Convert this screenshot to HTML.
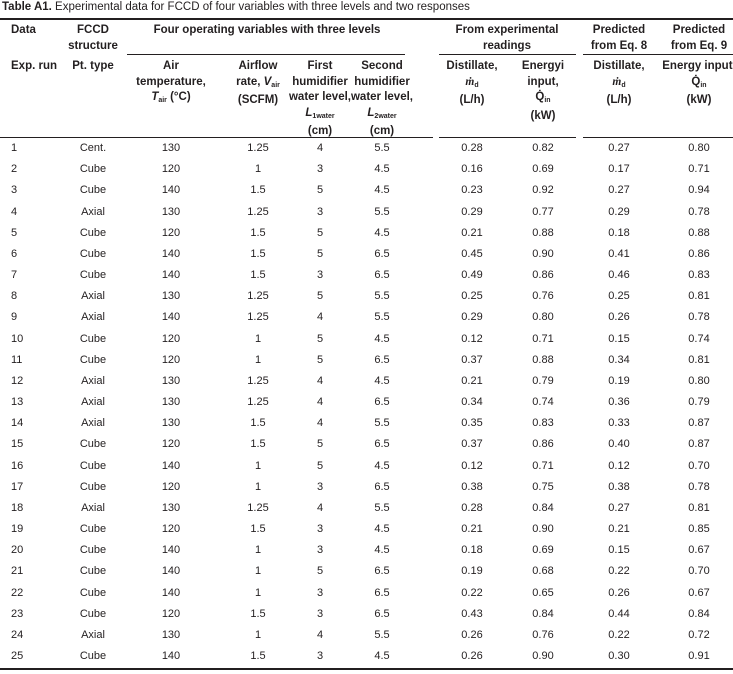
<!DOCTYPE html>
<html><head><meta charset="utf-8"><style>
body{margin:0;width:733px;height:674px;background:#fff;position:relative;font-family:"Liberation Sans Narrow","Liberation Sans",sans-serif;color:#231f20;overflow:hidden}
.t{position:absolute;font-size:11px;white-space:nowrap;text-align:center;width:120px;line-height:15px}
.h{font-weight:bold;font-family:"Liberation Sans",sans-serif;font-size:11.5px;line-height:15.5px}
.l{position:absolute;height:1px;background:#231f20}
sub{font-size:7px;vertical-align:-2px}
</style></head><body>
<div style="position:absolute;left:2px;top:1px;font-size:11.5px;font-family:'Liberation Sans',sans-serif"><b>Table A1.</b> Experimental data for FCCD of four variables with three levels and two responses</div>
<div class="l" style="left:0;width:733px;top:18px;height:1.5px"></div>
<div class="l" style="left:127px;width:278px;top:54px"></div>
<div class="l" style="left:439px;width:137px;top:54px"></div>
<div class="l" style="left:583px;width:150px;top:54px"></div>
<div class="l" style="left:0;width:433px;top:137px"></div>
<div class="l" style="left:439px;width:137px;top:137px"></div>
<div class="l" style="left:583px;width:150px;top:137px"></div>
<div class="l" style="left:0;width:733px;top:668px;height:1.5px"></div>

<div class="t h" style="left:11px;top:23px;text-align:left">Data</div>
<div class="t h" style="left:33px;top:23px">FCCD<br>structure</div>
<div class="t h" style="left:117px;top:23px;width:300px">Four operating variables with three levels</div>
<div class="t h" style="left:447px;top:23px">From experimental<br>readings</div>
<div class="t h" style="left:559px;top:23px">Predicted<br>from Eq. 8</div>
<div class="t h" style="left:639px;top:23px">Predicted<br>from Eq. 9</div>

<div class="t h" style="left:11px;top:59px;text-align:left">Exp. run</div>
<div class="t h" style="left:33px;top:59px">Pt. type</div>
<div class="t h" style="left:111px;top:59px">Air<br>temperature,<br><i>T</i><sub>air</sub> (°C)</div>
<div class="t h" style="left:198px;top:59px">Airflow<br>rate, <i>V</i><sub>air</sub><br>(SCFM)</div>
<div class="t h" style="left:260px;top:59px">First<br>humidifier<br>water level,<br><i>L</i><sub>1water</sub><br>(cm)</div>
<div class="t h" style="left:322px;top:59px">Second<br>humidifier<br>water level,<br><i>L</i><sub>2water</sub><br>(cm)</div>
<div class="t h" style="left:412px;top:59px">Distillate,<br><i style="font-family:'Liberation Serif',serif">ṁ</i><sub>d</sub><br>(L/h)</div>
<div class="t h" style="left:483px;top:59px">Energyi<br>input,<br>Q̇<sub>in</sub><br>(kW)</div>
<div class="t h" style="left:559px;top:59px">Distillate,<br><i style="font-family:'Liberation Serif',serif">ṁ</i><sub>d</sub><br>(L/h)</div>
<div class="t h" style="left:639px;top:59px">Energy input,<br>Q̇<sub>in</sub><br>(kW)</div>

<script>
var d=`1 Cent. 130 1.25 4 5.5 0.28 0.82 0.27 0.80
2 Cube 120 1 3 4.5 0.16 0.69 0.17 0.71
3 Cube 140 1.5 5 4.5 0.23 0.92 0.27 0.94
4 Axial 130 1.25 3 5.5 0.29 0.77 0.29 0.78
5 Cube 120 1.5 5 4.5 0.21 0.88 0.18 0.88
6 Cube 140 1.5 5 6.5 0.45 0.90 0.41 0.86
7 Cube 140 1.5 3 6.5 0.49 0.86 0.46 0.83
8 Axial 130 1.25 5 5.5 0.25 0.76 0.25 0.81
9 Axial 140 1.25 4 5.5 0.29 0.80 0.26 0.78
10 Cube 120 1 5 4.5 0.12 0.71 0.15 0.74
11 Cube 120 1 5 6.5 0.37 0.88 0.34 0.81
12 Axial 130 1.25 4 4.5 0.21 0.79 0.19 0.80
13 Axial 130 1.25 4 6.5 0.34 0.74 0.36 0.79
14 Axial 130 1.5 4 5.5 0.35 0.83 0.33 0.87
15 Cube 120 1.5 5 6.5 0.37 0.86 0.40 0.87
16 Cube 140 1 5 4.5 0.12 0.71 0.12 0.70
17 Cube 120 1 3 6.5 0.38 0.75 0.38 0.78
18 Axial 130 1.25 4 5.5 0.28 0.84 0.27 0.81
19 Cube 120 1.5 3 4.5 0.21 0.90 0.21 0.85
20 Cube 140 1 3 4.5 0.18 0.69 0.15 0.67
21 Cube 140 1 5 6.5 0.19 0.68 0.22 0.70
22 Cube 140 1 3 6.5 0.22 0.65 0.26 0.67
23 Cube 120 1.5 3 6.5 0.43 0.84 0.44 0.84
24 Axial 130 1 4 5.5 0.26 0.76 0.22 0.72
25 Cube 140 1.5 3 4.5 0.26 0.90 0.30 0.91`.split("\n");
var c=[null,93,171,258,320,382,472,543,619,699],h="";
d.forEach(function(r,i){var f=r.split(" "),y=141+i*21.17;
f.forEach(function(v,j){if(j==0)h+='<div class="t" style="left:11px;top:'+y+'px;text-align:left">'+v+'</div>';
else h+='<div class="t" style="left:'+(c[j]-60)+'px;top:'+y+'px">'+v+'</div>';});});
document.body.insertAdjacentHTML("beforeend",h);
</script>
</body></html>
